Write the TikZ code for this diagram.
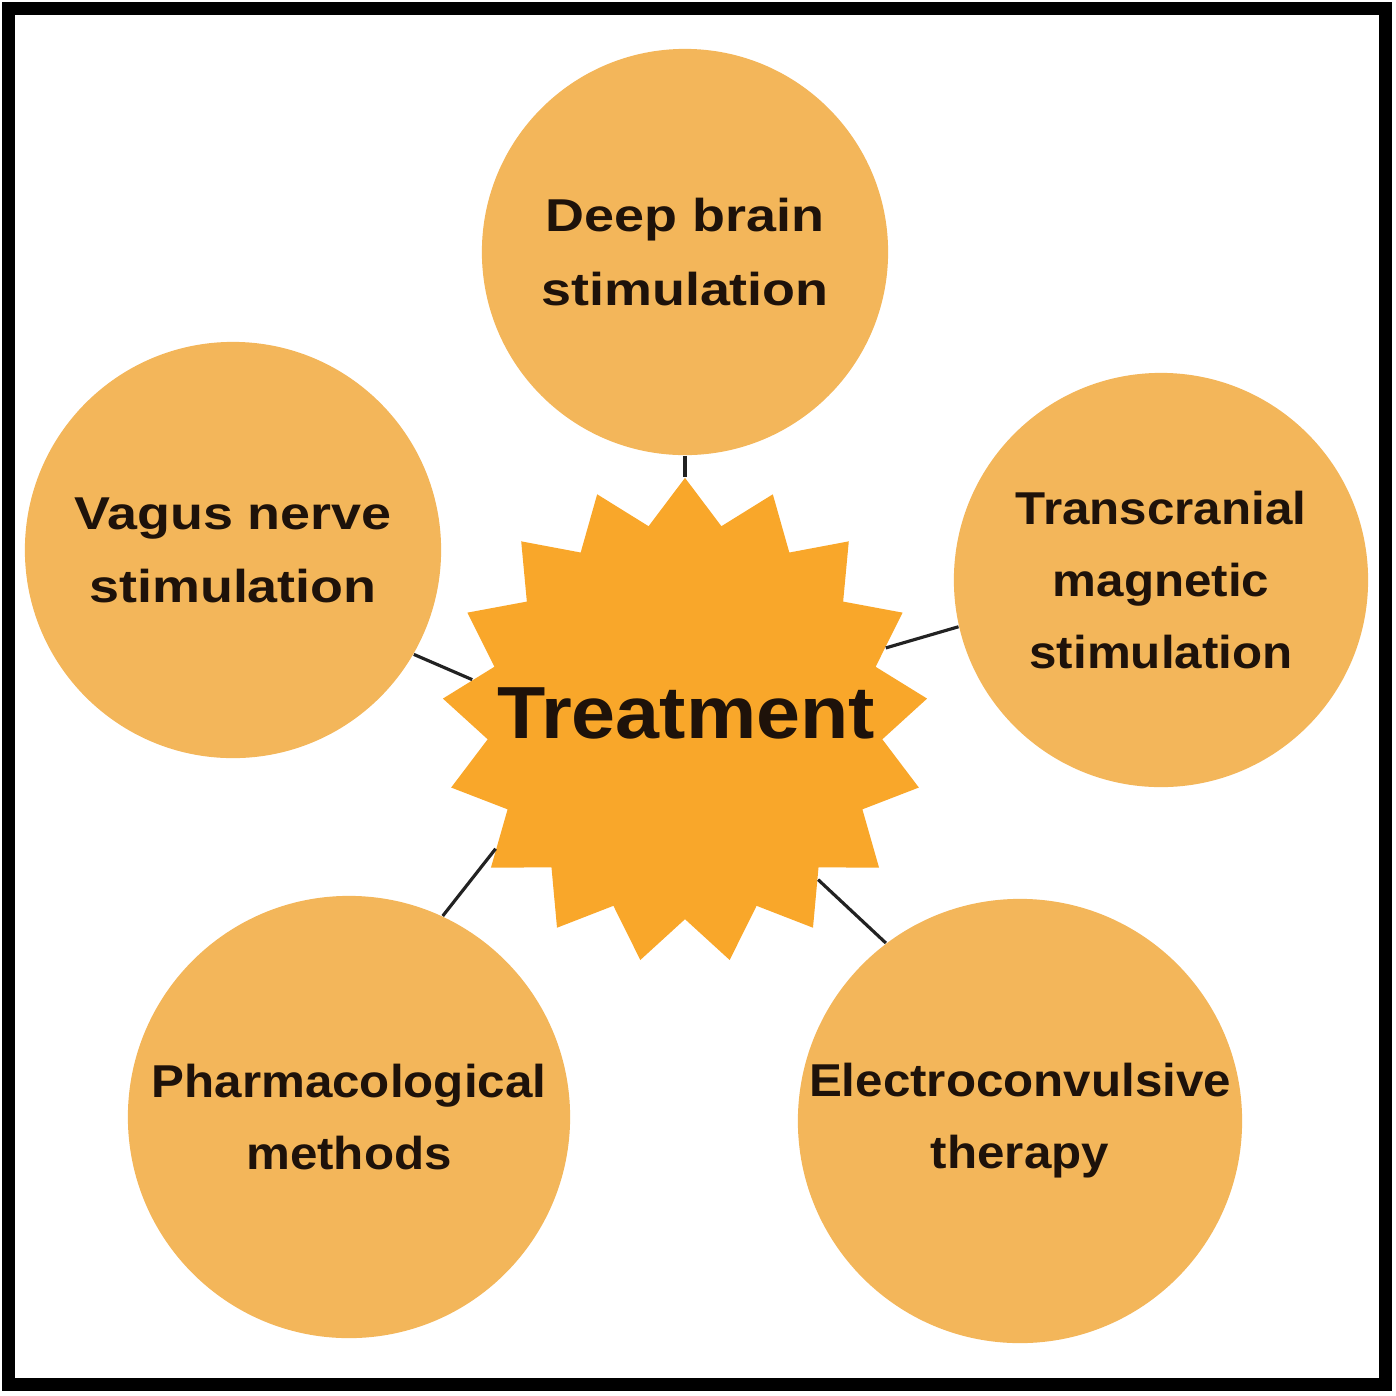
\documentclass[tikz,border=0pt]{standalone}
\usepackage{fontspec}
\usepackage{tikz}
\usetikzlibrary{shapes.geometric}
\newfontfamily\circfont[FakeStretch=1.07]{Liberation Sans}
\newfontfamily\circwide[FakeStretch=1.17]{Liberation Sans}
\definecolor{circfill}{RGB}{243,182,90}
\definecolor{starfill}{RGB}{249,167,42}
\definecolor{inktext}{RGB}{30,18,10}
\definecolor{linkline}{RGB}{34,34,34}
\tikzset{
  topic/.style={circle, fill=circfill, inner sep=0pt, align=center, text=inktext,
    font=\circfont\bfseries\fontsize{13.1}{20.5}\selectfont},
  widetopic/.style={topic, font=\circwide\bfseries\fontsize{13.1}{20.8}\selectfont},
  link/.style={draw=linkline, line width=0.9pt}
}

\begin{document}
\begin{tikzpicture}[x=0.01cm, y=-0.01cm]
    \useasboundingbox (0,0) rectangle (1396,1396);
    % Draw the frame
    \draw[line width=3.7pt, black] (8.5,8.5) rectangle (1385,1384);

    % Draw the central star
    \node[star, star points=17, star point ratio=1.227, minimum size=4.86cm,
      inner sep=0pt, fill=starfill] (Star) at (685,721) {};
    \node[text=inktext, font=\circfont\bfseries\fontsize{21}{25}\selectfont]
      (TreatmentText) at (686,713) {Treatment};

    % Define the surrounding circles
    \node[widetopic, minimum size=4.06cm] (DeepBrain) at (685,252) {Deep brain\\stimulation};
    \node[widetopic, minimum size=4.16cm] (Vagus) at (233,550) {Vagus nerve\\stimulation};
    \node[topic, minimum size=4.14cm] (Transcranial) at (1161,580) {Transcranial\\magnetic\\stimulation};
    \node[topic, minimum size=4.42cm] (Pharma) at (349,1117) {Pharmacological\\methods};
    \node[topic, minimum size=4.44cm] (Electro) at (1020,1121) {Electroconvulsive\\therapy};

    % Connect the circles to the star
    \foreach \n/\a/\b in {DeepBrain/-90/90, Vagus/-30/169, Transcranial/193/20,
                          Pharma/65/214, Electro/127/-50}
        \draw[link] (\n.\a) -- (Star.\b);
\end{tikzpicture}
\end{document}
